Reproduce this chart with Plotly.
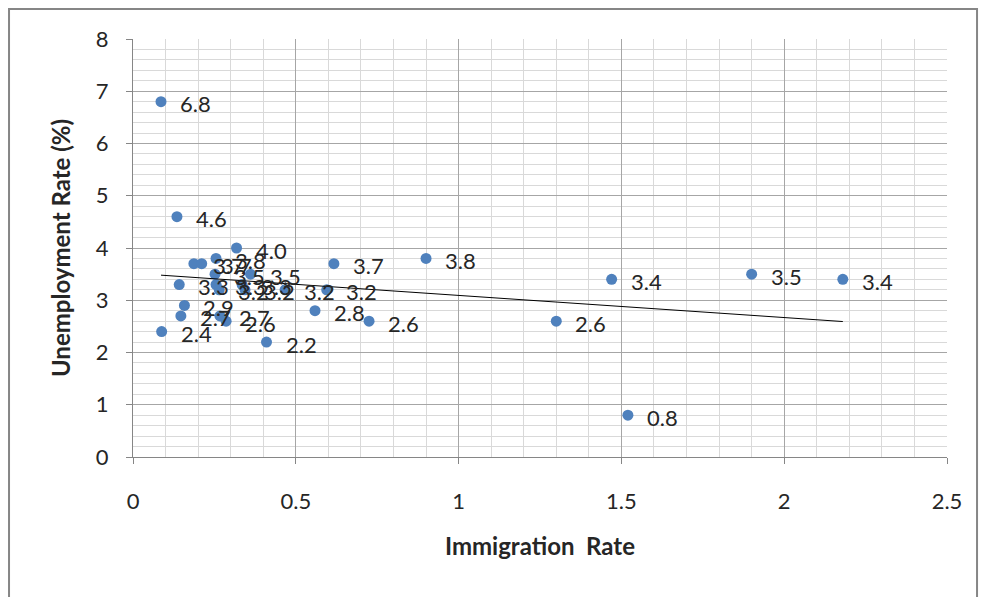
import numpy as np
import plotly.graph_objects as go

# Immigration rate vs. unemployment rate by state
immigration_rate = [0.086, 0.135, 0.318, 0.90, 0.617, 1.47, 1.90, 2.18, 1.30, 1.52,
                    0.725, 0.559, 0.41, 0.187, 0.211, 0.255, 0.361, 0.252, 0.142, 0.255,
                    0.265, 0.344, 0.467, 0.595, 0.158, 0.147, 0.267, 0.286, 0.088, 0.335]
unemployment_rate = [6.8, 4.6, 4.0, 3.8, 3.7, 3.4, 3.5, 3.4, 2.6, 0.8,
                     2.6, 2.8, 2.2, 3.7, 3.7, 3.8, 3.5, 3.5, 3.3, 3.3,
                     3.2, 3.2, 3.2, 3.2, 2.9, 2.7, 2.7, 2.6, 2.4, 3.3]

x_ticks = [0, 0.5, 1, 1.5, 2, 2.5]
y_ticks = [0, 1, 2, 3, 4, 5, 6, 7, 8]

FONT = "Lato, 'Open Sans', sans-serif"
TEXT = "#262626"
POINT = "#4f81bd"

# Linear trend line over the observed x span
slope, intercept = np.polyfit(immigration_rate, unemployment_rate, 1)
trend_x = np.array([min(immigration_rate), max(immigration_rate)])
trend_y = slope * trend_x + intercept

fig = go.Figure()
fig.add_trace(go.Scatter(
    x=immigration_rate, y=unemployment_rate, mode="markers",
    marker=dict(color=POINT, size=11), hoverinfo="x+y", showlegend=False,
))
fig.add_trace(go.Scatter(
    x=trend_x, y=trend_y, mode="lines",
    line=dict(color="black", width=1), hoverinfo="skip", showlegend=False,
))

# Value labels to the right of each point
annotations = [
    dict(x=xv, y=yv, xref="x", yref="y", text=f"{yv:.1f}", showarrow=False,
         xanchor="left", yanchor="middle", xshift=17, yshift=-2,
         font=dict(family=FONT, size=22, color=TEXT))
    for xv, yv in zip(immigration_rate, unemployment_rate)
]

axis_common = dict(
    showgrid=True, gridcolor="#a6a6a6", gridwidth=1,
    showline=True, linecolor="#868686", linewidth=1,
    ticks="outside", ticklen=6, tickcolor="#868686",
    zeroline=False,
    tickfont=dict(family=FONT, size=22, color=TEXT),
)

fig.update_layout(
    width=981, height=597,
    margin=dict(l=133, r=34, t=39, b=140),
    paper_bgcolor="white", plot_bgcolor="white",
    annotations=annotations,
    xaxis=dict(
        range=[0, 2.5], tickvals=x_ticks, ticktext=[f"{v:g}" for v in x_ticks],
        minor=dict(dtick=0.1, tick0=0, showgrid=True, gridcolor="#d9d9d9", gridwidth=1, ticks=""),
        ticklabelstandoff=19,
        title=dict(text="Immigration  Rate", standoff=24,
                   font=dict(family=FONT, size=24, color=TEXT, weight="bold")),
        **axis_common,
    ),
    yaxis=dict(
        range=[0, 8], tickvals=y_ticks,
        minor=dict(dtick=0.2, tick0=0, showgrid=True, gridcolor="#d9d9d9", gridwidth=1, ticks=""),
        ticklabelstandoff=13,
        title=dict(text="Unemployment Rate (%)", standoff=18,
                   font=dict(family=FONT, size=24, color=TEXT, weight="bold")),
        **axis_common,
    ),
    shapes=[dict(type="rect", xref="paper", yref="paper",
                 x0=-0.1523, x1=1.0369, y0=-0.4, y1=1.0718,
                 line=dict(color="#868686", width=2), layer="below")],
)

fig.write_html("out.html")
